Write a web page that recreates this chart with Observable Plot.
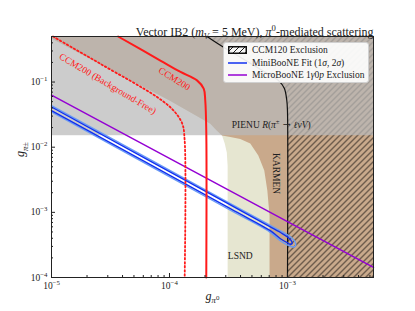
<!DOCTYPE html>
<html>
<head>
<meta charset="utf-8">
<script src="https://cdn.jsdelivr.net/npm/d3@7"></script>
<script src="https://cdn.jsdelivr.net/npm/@observablehq/plot@0.6"></script>
<style>
  body { margin: 0; background: white; }
  #wrap { position: relative; width: 415px; height: 311px; font-family: "Liberation Serif", "DejaVu Serif", serif; }
  #legend { position: absolute; left: 223px; top: 42px; width: 144px; height: 39px;
    background: rgba(255,255,255,0.9); border: 1px solid #d0d0d0; border-radius: 3px;
    font-size: 9.5px; color: #222; }
  .row { position: absolute; left: 0; height: 12px; line-height: 12px; white-space: nowrap; }
  .row svg { position: absolute; left: 4px; top: 2px; }
  .row span { position: absolute; left: 28px; top: 0; }
</style>
</head>
<body>
<svg width="0" height="0" style="position:absolute">
  <defs>
    <pattern id="hatch" patternUnits="userSpaceOnUse" width="6" height="6">
      <path d="M-1,1 L1,-1 M0,6 L6,0 M5,7 L7,5" stroke="#000" stroke-width="0.9"/>
    </pattern>
  </defs>
</svg>
<div id="wrap">
  <div id="legend">
    <div class="row" style="top:1px"><svg width="19" height="8"><rect x="0.75" y="0.75" width="17.5" height="6.5" fill="url(#hatch)" stroke="#111" stroke-width="1.5"/></svg><span>CCM120 Exclusion</span></div>
    <div class="row" style="top:13.5px"><svg width="19" height="8"><line x1="0" x2="19" y1="4" y2="4" stroke="#1030f0" stroke-width="1.5"/></svg><span>MiniBooNE Fit (1<i>σ</i>, 2<i>σ</i>)</span></div>
    <div class="row" style="top:26px"><svg width="19" height="8"><line x1="0" x2="19" y1="4" y2="4" stroke="#9400d3" stroke-width="1.5"/></svg><span>MicroBooNE 1<i>γ</i>0<i>p</i> Exclusion</span></div>
  </div>
</div>
<script>
// ---------- data ----------
const X_DOMAIN = [1e-5, 5.36e-3];
const Y_DOMAIN = [1e-4, 0.5];
const PIENU_Y = 0.015;

const xMajorTicks = [1e-5, 1e-4, 1e-3];
const yMajorTicks = [1e-4, 1e-3, 1e-2, 1e-1];

// shared upper diagonal edge of the LSND / KARMEN regions
const upperDiagonal = [[2.79e-4, 0.0151], [2.49e-4, 0.0184], [2.22e-4, 0.0229], [1.0e-4, 0.052], [1e-5, 0.465]];
const lsndEdge = [[3.11e-4, 1e-4], [3.11e-4, 5.2e-3], [3.06e-4, 8.3e-3], [2.94e-4, 0.0114]];
const karmenEdge = [[7.05e-4, 1e-4], [7.05e-4, 8.9e-4], [6.75e-4, 2.16e-3], [6.36e-4, 4.38e-3], [5.66e-4, 7.45e-3], [4.84e-4, 0.0114], [3.98e-4, 0.0134], [3.28e-4, 0.0144]];
const ccm120Edge = [[2.08e-4, 0.5], [2.70e-4, 0.367], [4.39e-4, 0.216], [6.49e-4, 0.141], [8.36e-4, 0.106], [9.4e-4, 0.080], [9.87e-4, 0.052], [1e-3, 0.0366], [1e-3, 1e-4]];
const ccm200 = [[3.67e-5, 0.5], [8.37e-5, 0.214], [1.24e-4, 0.143], [1.71e-4, 0.106], [1.95e-4, 0.079], [2.01e-4, 0.052], [2.05e-4, 0.018], [2.05e-4, 1e-4]];
const ccm200BF = [[1.03e-5, 0.5], [2.6e-5, 0.19], [7.85e-5, 0.0588], [1.08e-4, 0.0367], [1.28e-4, 0.0232], [1.345e-4, 0.0127], [1.345e-4, 1e-4]];
const microBooNE = [[1e-5, 0.063], [1e-3, 7.2e-4], [5.36e-3, 1.43e-4]];
const miniBooNE1s = [[1e-5, 0.0414], [3.28e-4, 1.30e-3], [7.15e-4, 6.00e-4], [9.04e-4, 4.73e-4], [1.016e-3, 4.11e-4], [1.077e-3, 3.67e-4], [1.098e-3, 3.38e-4], [1.066e-3, 3.24e-4], [9.96e-4, 3.42e-4], [8.86e-4, 3.87e-4], [7.15e-4, 5.23e-4], [3.28e-4, 1.14e-3], [1e-5, 0.0364]];
const miniBooNE2s = [[1e-5, 0.0435], [3.28e-4, 1.366e-3], [7.15e-4, 6.31e-4], [9.21e-4, 4.91e-4], [1.056e-3, 4.23e-4], [1.142e-3, 3.67e-4], [1.176e-3, 3.24e-4], [1.153e-3, 2.97e-4], [1.087e-3, 2.97e-4], [9.96e-4, 3.18e-4], [8.69e-4, 3.67e-4], [7.15e-4, 4.94e-4], [3.28e-4, 1.077e-3], [1e-5, 0.0347]];

const noteText = ["CCM200", "CCM200 (Background-Free)", "PIENU |R|(|π|^{±} → |ℓνV|)", "KARMEN", "LSND"];
const noteX = [1.10e-4, 3.0e-5, 7.29e-4, 8.04e-4, 3.98e-4];
const noteY = [0.112, 0.094, 0.0216, 3.94e-3, 2.16e-4];
const noteRotate = [32, 30.5, 0, 90, 0];
const noteColor = ["#ff1a1a", "#ff1a1a", "#222", "#222", "#222"];

const titleText = "Vector IB2 (|m|_{|V|} = 5 MeV), |π|^{0}-mediated scattering";
const xLabel = "|g|_{|π|⁰}";
const yLabel = "|g|_{|π|±}";

// ---------- helpers ----------
const [xmin, xmax] = X_DOMAIN, [ymin, ymax] = Y_DOMAIN;
const closeRight = edge => [...edge, [xmin, ymax], [xmax, ymax], [xmax, ymin]];
const lsndPoly = closeRight([...lsndEdge, ...upperDiagonal]);
const karmenPoly = closeRight([...karmenEdge, ...upperDiagonal]);
const ccm120Poly = [...ccm120Edge, [xmax, ymin], [xmax, ymax]];
const notes = noteText.map((t, i) => ({t, x: noteX[i], y: noteY[i], r: noteRotate[i], c: noteColor[i]}));
const minor = (lo, hi) => { const out = []; for (let e = Math.floor(Math.log10(lo)); e <= Math.ceil(Math.log10(hi)); e++) for (let k = 2; k <= 9; k++) { const v = k * 10 ** e; if (v > lo && v < hi) out.push(v); } return out; };
const xMinorTicks = minor(xmin, xmax), yMinorTicks = minor(ymin, ymax);

const W = 415, H = 311, mL = 51, mR = 42, mT = 36, mB = 34;
const fw = W - mL - mR, fh = H - mT - mB;
const px = d => d[0], py = d => d[1];
const expFmt = d => `10^{${String(Math.round(Math.log10(d))).replace("-", "−")}}`;

const chart = Plot.plot({
  width: W, height: H,
  marginLeft: mL, marginRight: mR, marginTop: mT, marginBottom: mB,
  x: {type: "log", domain: X_DOMAIN},
  y: {type: "log", domain: Y_DOMAIN},
  style: {fontFamily: "'Liberation Serif', 'DejaVu Serif', serif", fontSize: "9px", color: "#222", background: "white"},
  marks: [
    Plot.line(lsndPoly, {x: px, y: py, fill: "#e6e6d1", stroke: "none"}),
    Plot.line(karmenPoly, {x: px, y: py, fill: "#c9a98b", stroke: "none"}),
    Plot.line(ccm120Poly, {x: px, y: py, fill: "url(#hatch)", stroke: "none"}),
    Plot.rect([PIENU_Y], {x1: xmin, x2: xmax, y1: d => d, y2: ymax, fill: "#b8b8b8", fillOpacity: 0.72}),
    Plot.line(ccm120Edge, {x: px, y: py, stroke: "#111", strokeWidth: 1.2, curve: "catmull-rom"}),
    Plot.line(microBooNE, {x: px, y: py, stroke: "#9400d3", strokeWidth: 1.5}),
    Plot.line(miniBooNE2s, {x: px, y: py, stroke: "#6a9cf5", strokeWidth: 1.4, curve: "catmull-rom"}),
    Plot.line(miniBooNE1s, {x: px, y: py, stroke: "#1030f0", strokeWidth: 1.4, curve: "catmull-rom"}),
    Plot.line(ccm200BF, {x: px, y: py, stroke: "#ff1a1a", strokeWidth: 1.8, strokeDasharray: "1.6,2.4", curve: "catmull-rom"}),
    Plot.line(ccm200, {x: px, y: py, stroke: "#ff1a1a", strokeWidth: 2, curve: "catmull-rom"}),
    Plot.text(notes, {x: "x", y: "y", text: "t", rotate: "r", fill: "c", fontSize: 9.5}),
    Plot.tickX(xMajorTicks, {x: d => d, insetTop: fh - 4, stroke: "#222"}),
    Plot.tickX(xMinorTicks, {x: d => d, insetTop: fh - 2, stroke: "#222"}),
    Plot.tickY(yMajorTicks, {y: d => d, insetRight: fw - 4, stroke: "#222"}),
    Plot.tickY(yMinorTicks, {y: d => d, insetRight: fw - 2, stroke: "#222"}),
    Plot.axisX({ticks: xMajorTicks, tickSize: 0, tickPadding: 5, tickFormat: expFmt, label: null, fontSize: 9.5}),
    Plot.axisY({ticks: yMajorTicks, tickSize: 0, tickPadding: 4, tickFormat: expFmt, label: null, fontSize: 9.5}),
    Plot.frame({stroke: "#222", strokeWidth: 1}),
    Plot.text([titleText], {frameAnchor: "top-right", textAnchor: "end", dy: -9, fontSize: 12, fill: "#222"}),
    Plot.text([xLabel], {frameAnchor: "bottom", dy: 22, fontSize: 12, fill: "#222"}),
    Plot.text([yLabel], {frameAnchor: "left", dx: -31, rotate: -90, fontSize: 12, fill: "#222"})
  ]
});

document.getElementById("wrap").insertBefore(chart, document.getElementById("legend"));

// ---------- simple math markup: |italic|, ^{sup}, _{sub} ----------
const svgNS = "http://www.w3.org/2000/svg";
function parseMarkup(s) {
  const segs = []; let italic = false, script = 0, buf = "";
  const flush = () => { if (buf) segs.push({t: buf, italic, script}); buf = ""; };
  for (let i = 0; i < s.length; i++) {
    const c = s[i];
    if (c === "|") { flush(); italic = !italic; }
    else if ((c === "^" || c === "_") && s[i + 1] === "{") { flush(); script = c === "^" ? 1 : -1; i++; }
    else if (c === "}" && script !== 0) { flush(); script = 0; }
    else buf += c;
  }
  flush();
  return segs;
}
function richify(el) {
  const s = el.textContent;
  if (!/[|^_]/.test(s)) return;
  const base = parseFloat(getComputedStyle(el).fontSize) || 9;
  const segs = parseMarkup(s);
  el.textContent = "";
  let offset = 0;
  for (const seg of segs) {
    const target = seg.script === 1 ? -0.42 * base : seg.script === -1 ? 0.28 * base : 0;
    const ts = document.createElementNS(svgNS, "tspan");
    if (target - offset) ts.setAttribute("dy", (target - offset).toFixed(2));
    offset = target;
    if (seg.script) ts.setAttribute("font-size", (0.72 * base).toFixed(2));
    if (seg.italic) ts.setAttribute("font-style", "italic");
    if (/[→]/.test(seg.t)) ts.setAttribute("font-family", "'DejaVu Serif', serif");
    ts.textContent = seg.t;
    el.appendChild(ts);
  }
}
chart.querySelectorAll("text").forEach(richify);
</script>
</body>
</html>
